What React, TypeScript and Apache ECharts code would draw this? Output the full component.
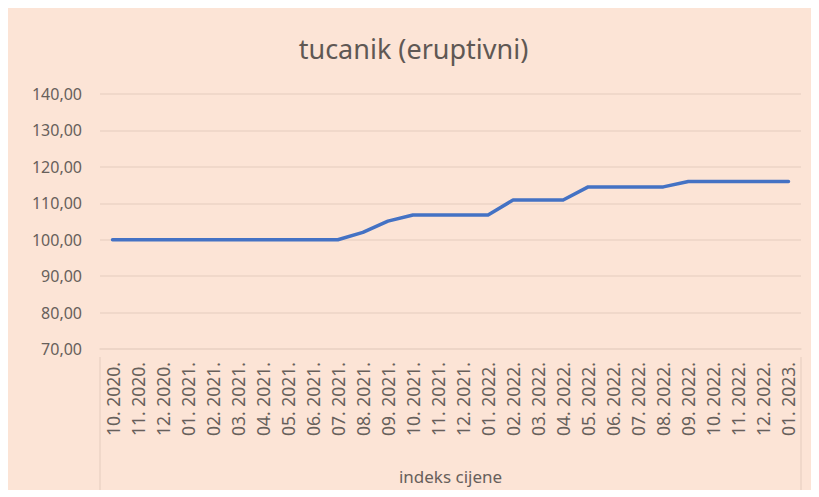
import React, { useEffect, useRef } from "react";
import * as echarts from "echarts";

const title = "tucanik (eruptivni)";
const axisName = "indeks cijene";
const categories = [
  "10. 2020.", "11. 2020.", "12. 2020.",
  "01. 2021.", "02. 2021.", "03. 2021.", "04. 2021.", "05. 2021.", "06. 2021.",
  "07. 2021.", "08. 2021.", "09. 2021.", "10. 2021.", "11. 2021.", "12. 2021.",
  "01. 2022.", "02. 2022.", "03. 2022.", "04. 2022.", "05. 2022.", "06. 2022.",
  "07. 2022.", "08. 2022.", "09. 2022.", "10. 2022.", "11. 2022.", "12. 2022.",
  "01. 2023.",
];
const values = [
  100, 100, 100,
  100, 100, 100, 100, 100, 100,
  100, 102.0, 105.1, 106.8, 106.8, 106.8,
  106.8, 110.9, 110.9, 110.9, 114.5, 114.5,
  114.5, 114.5, 116.0, 116.0, 116.0, 116.0,
  116.0,
];
const yMin = 70;
const yMax = 140;
const yStep = 10;

const W = 811;
const H = 482;
const gridLeft = 92;
const gridWidth = 701;
const gridTop = 86;
const gridHeight = 263;

export default function App() {
  const ref = useRef<HTMLDivElement>(null);
  useEffect(() => {
    if (!ref.current) return;
    const chart = echarts.init(ref.current, null, { renderer: "svg" });
    const textColor = "#67605b";
    const lineCol = "#ecd4c6";
    const axisBottom = gridTop + gridHeight;
    chart.setOption({
      animation: false,
      backgroundColor: "#fce4d6",
      textStyle: { fontFamily: "Noto Sans" },
      title: {
        text: title,
        left: "center",
        top: 22,
        textStyle: { fontFamily: "Noto Sans", fontSize: 27, fontWeight: "normal", color: "#5f5854" },
      },
      grid: { left: gridLeft, top: gridTop, width: gridWidth, height: gridHeight, containLabel: false },
      xAxis: {
        type: "category",
        data: categories,
        boundaryGap: true,
        name: axisName,
        nameLocation: "middle",
        nameGap: 119,
        nameTextStyle: { fontFamily: "Noto Sans", fontSize: 17, color: textColor },
        axisLine: { show: true, lineStyle: { color: lineCol, width: 1.5 } },
        axisTick: { show: false },
        axisLabel: {
          rotate: 90,
          interval: 0,
          margin: 13,
          fontFamily: "Noto Sans",
          fontSize: 17.5,
          color: textColor,
        },
        splitLine: { show: false },
      },
      yAxis: {
        type: "value",
        min: yMin,
        max: yMax,
        interval: yStep,
        axisLine: { show: false },
        axisTick: { show: false },
        axisLabel: {
          margin: 18,
          fontFamily: "Noto Sans",
          fontSize: 16,
          color: textColor,
          formatter: (v: number) => v.toFixed(2).replace(".", ","),
        },
        splitLine: { show: true, lineStyle: { color: lineCol, width: 1.5 } },
      },
      graphic: [
        {
          type: "line",
          shape: { x1: gridLeft, y1: axisBottom, x2: gridLeft, y2: axisBottom + 133 },
          style: { stroke: lineCol, lineWidth: 1.5 },
        },
        {
          type: "line",
          shape: { x1: gridLeft + gridWidth, y1: axisBottom, x2: gridLeft + gridWidth, y2: axisBottom + 133 },
          style: { stroke: lineCol, lineWidth: 1.5 },
        },
      ],
      series: [
        {
          type: "line",
          data: values,
          symbol: "none",
          smooth: false,
          lineStyle: { color: "#4472c4", width: 3.5, cap: "round", join: "round" },
        },
      ],
    });
    return () => chart.dispose();
  }, []);
  return <div ref={ref} style={{ width: W, height: H }} />;
}
